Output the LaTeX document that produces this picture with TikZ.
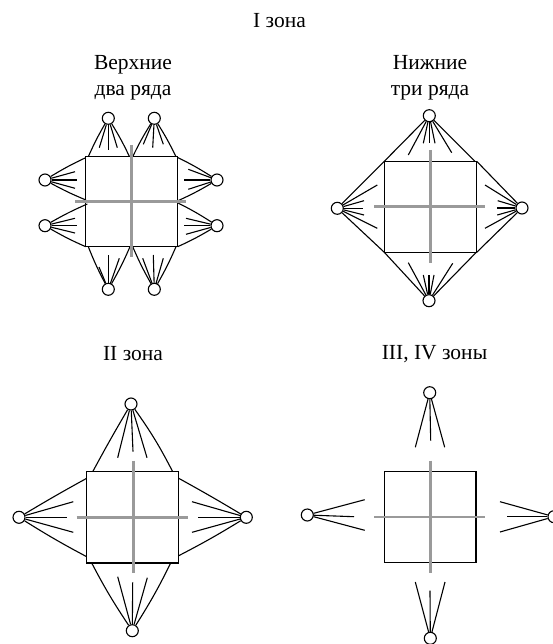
\documentclass[tikz,border=0pt]{standalone}
\usepackage{fontspec}
\setmainfont{Liberation Serif}
\tikzset{
  x=1pt,y=-1pt,
  wire/.style={draw=black,line width=1.1pt},
  ray/.style={draw=black,line width=1.1pt},
  bar/.style={draw=barcol,line width=2.8pt},
  lamp/.style={circle,draw=black,fill=white,line width=1.1pt,minimum size=12pt,inner sep=0pt},
  zonetext/.style={font=\fontsize{21.5}{26.5}\selectfont,align=center,text=black},
}
\definecolor{barcol}{HTML}{9A9A9A}
\begin{document}
\begin{tikzpicture}
\useasboundingbox (0,0) rectangle (553,644);
\node[zonetext] (t0) at (279.5,21) {I зона};
\node[zonetext] (t1) at (133,78) {Верхние\\два ряда};
\node[zonetext] (t2) at (430,78) {Нижние\\три ряда};
\node[zonetext] (t3) at (133,354) {II зона};
\node[zonetext] (t4) at (434.5,354) {III, IV зоны};

% ---------- panel 1
\node[lamp] (a1) at (108.3,118.3) {};
\node[lamp] (a2) at (154.3,118.3) {};
\node[lamp] (a3) at (45,180) {};
\node[lamp] (a4) at (45,225.7) {};
\node[lamp] (a5) at (217,180) {};
\node[lamp] (a6) at (217,225.7) {};
\node[lamp] (a7) at (108.3,289.3) {};
\node[lamp] (a8) at (154.3,289.3) {};
\draw[wire] (85.7,156.7) rectangle (177.3,246.7);
\draw[wire] (a1) to[bend right=3] (88.3,156.7);
\draw[wire] (a1) to[bend left=3] (129.5,156.7);
\draw[wire] (a2) to[bend right=3] (132.7,156.7);
\draw[wire] (a2) to[bend left=3] (176,156.7);
\draw[wire] (a3) to[bend left=3] (85.7,157.7);
\draw[wire] (a3) to[bend right=3] (86,200);
\draw[wire] (a4) to[bend left=3] (87.3,204);
\draw[wire] (a4) to[bend right=3] (85.7,246.7);
\draw[wire] (a5) to[bend right=3] (177.3,157.3);
\draw[wire] (a5) to[bend left=3] (178,200.7);
\draw[wire] (a6) to[bend right=3] (178,203);
\draw[wire] (a6) to[bend left=3] (177.7,246.7);
\draw[wire] (a7) to[bend left=3] (88.3,246.7);
\draw[wire] (a7) to[bend right=3] (130,246.7);
\draw[wire] (a8) to[bend left=3] (132.7,246.7);
\draw[wire] (a8) to[bend right=3] (176,246.7);
\foreach \n/\p in {
  a1/{99.3,147.7},a1/{108.3,150},a1/{117.3,147.7},
  a2/{143.3,144.3},a2/{152.7,147.7},a2/{163.3,144.3},
  a3/{75,171.7},a3/{77.3,180},a3/{75,188.3},
  a4/{75,218.3},a4/{77.3,225.7},a4/{75,233},
  a5/{188.3,169.3},a5/{184.3,180},a5/{188.3,189.3},
  a6/{186,218.3},a6/{184.3,225.7},a6/{186,234.3},
  a7/{99,267},a7/{108.3,255},a7/{119.3,258.3},
  a8/{142.7,258.3},a8/{153.3,255},a8/{163.3,258.3}}
  {\draw[ray] (\n) -- (\p);}
\draw[bar] (75,201.7) -- (186,201.7);
\draw[bar] (131.3,145) -- (131.3,257);

% ---------- panel 2
\node[lamp] (b1) at (429.3,115.7) {};
\node[lamp] (b2) at (337.3,208.3) {};
\node[lamp] (b3) at (522,208) {};
\node[lamp] (b4) at (429,300.7) {};
\draw[wire] (384.3,161.3) rectangle (476.3,252.3);
\draw[wire] (b1) -- (384.3,161.3);
\draw[wire] (b1) -- (475,161.3);
\draw[wire] (b2) -- (384.3,161.3);
\draw[wire] (b2) -- (384.3,252.3);
\draw[wire] (b3) -- (476.7,161.3);
\draw[wire] (b3) -- (476.7,252.3);
\draw[wire] (b4) -- (384.3,252.3);
\draw[wire] (b4) -- (476.3,252.3);
\foreach \n/\p in {
  b1/{408.3,155},b1/{423.3,143.3},b1/{429.3,143.3},b1/{435,143.3},b1/{451.7,152.7},
  b2/{377.3,185},b2/{364,200.7},b2/{362.7,208.3},b2/{364,215},b2/{377.3,228.3},
  b3/{485,185},b3/{497.7,200.7},b3/{496.7,208},b3/{497.3,215},b3/{485,228.3},
  b4/{408.3,262.7},b4/{423.3,275},b4/{429,275},b4/{434,275},b4/{452.7,263.3}}
  {\draw[ray] (\n) -- (\p);}
\draw[bar] (374,206.7) -- (485,206.7);
\draw[bar] (430.3,150) -- (430.3,262.7);

% ---------- panel 3
\node[lamp] (c1) at (131,404) {};
\node[lamp] (c2) at (19,517.3) {};
\node[lamp] (c3) at (246.3,517.3) {};
\node[lamp] (c4) at (132.3,630.7) {};
\draw[wire] (86.7,471.7) rectangle (178.7,563);
\draw[wire] (c1) to[bend right=1] (92.7,471.7);
\draw[wire] (c1) to[bend left=4] (172.7,471.7);
\draw[wire] (c2) to[bend left=1] (86.7,478.3);
\draw[wire] (c2) to[bend right=2] (86.7,556.7);
\draw[wire] (c3) to[bend right=1] (178.7,478.3);
\draw[wire] (c3) to[bend left=2] (178.7,555.7);
\draw[wire] (c4) to[bend left=3] (91.7,563);
\draw[wire] (c4) to[bend right=3] (170.7,563);
\foreach \n/\p in {
  c1/{117.7,457.7},c1/{133,451.7},c1/{147,457.7},
  c2/{73.3,501.7},c2/{66.7,517.3},c2/{73.3,532.3},
  c3/{192,501.7},c3/{198.3,517.3},c3/{192,532.3},
  c4/{117.7,576.7},c4/{132.7,582.3},c4/{147.3,577.7}}
  {\draw[ray] (\n) -- (\p);}
\draw[bar] (76.7,517.3) -- (187.7,517.3);
\draw[bar] (133.3,460.7) -- (133.3,572.7);

% ---------- panel 4
\node[lamp] (d1) at (429.7,392.7) {};
\node[lamp] (d2) at (307.3,515) {};
\node[lamp] (d3) at (554,516.7) {};
\node[lamp] (d4) at (430.3,638.3) {};
\draw[wire] (384.3,471.7) rectangle (476,562.7);
\foreach \n/\p in {
  d1/{415.3,447.3},d1/{430.7,440.7},d1/{444.7,447.3},
  d2/{364.7,499.7},d2/{354,516.7},d2/{364.7,530.3},
  d3/{500,501.7},d3/{507.3,516.7},d3/{500,532},
  d4/{415.3,582},d4/{430,590.7},d4/{445,582}}
  {\draw[ray] (\n) -- (\p);}
\draw[bar] (374,517) -- (485.3,517);
\draw[bar] (430.7,460.7) -- (430.7,572.7);
\end{tikzpicture}
\end{document}
